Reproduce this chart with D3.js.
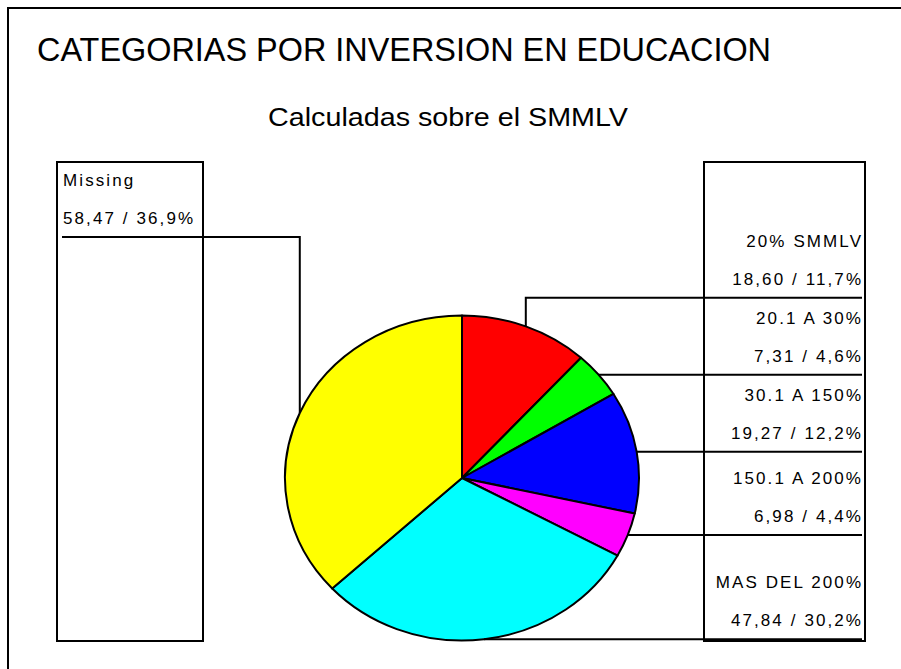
<!DOCTYPE html>
<html><head><meta charset="utf-8">
<script src="https://cdn.jsdelivr.net/npm/d3@7"></script>
<style>body{margin:0;background:#fff} svg{display:block}</style>
</head><body>
<svg id="chart" width="901" height="669"></svg>
<script>
// ---- data ----
const categories = ["20% SMMLV", "20.1 A 30%", "30.1 A 150%", "150.1 A 200%", "MAS DEL 200%", "Missing"];
const values = [18.60, 7.31, 19.27, 6.98, 47.84, 58.47];
const colors = ["#FF0000", "#00FF00", "#0000FF", "#FF00FF", "#00FFFF", "#FFFF00"];
const titleText = "CATEGORIAS POR INVERSION EN EDUCACION";
const subtitleText = "Calculadas sobre el SMMLV";
const leftSide = ["Missing"];

// ---- layout ----
const W = 901, H = 669;
const cx = 462, cy = 478, rx = 177, ry = 162.5;
const boxTop = 162, boxBottom = 641;
const leftBox = {x0: 57, x1: 203};
const rightBox = {x0: 704, x1: 865};
const labelFont = "'Liberation Sans', Arial, sans-serif";
const ls = 2.1;

const svg = d3.select("#chart");
const total = d3.sum(values);
const fmtVal = v => d3.format(".2f")(v).replace(".", ",");
const fmtPct = v => d3.format(".1f")(v * 100).replace(".", ",") + "%";

// outer frame (only top and left visible)
svg.append("rect").attr("x", 8).attr("y", 8).attr("width", 1200).attr("height", 1200)
  .attr("fill", "none").attr("stroke", "#000").attr("stroke-width", 2);

// titles
svg.append("text").attr("x", 37).attr("y", 61)
  .attr("font-family", labelFont).attr("font-size", 34)
  .attr("textLength", 734).attr("lengthAdjust", "spacingAndGlyphs")
  .text(titleText);
svg.append("text").attr("x", 268).attr("y", 126)
  .attr("font-family", labelFont).attr("font-size", 26)
  .attr("textLength", 360).attr("lengthAdjust", "spacingAndGlyphs")
  .text(subtitleText);

// label boxes
[leftBox, rightBox].forEach(b => {
  svg.append("rect").attr("x", b.x0).attr("y", boxTop)
    .attr("width", b.x1 - b.x0).attr("height", boxBottom - boxTop)
    .attr("fill", "none").attr("stroke", "#000").attr("stroke-width", 2);
});

// scales for the elliptical pie
const sx = d3.scaleLinear().domain([-1, 1]).range([cx - rx, cx + rx]);
const sy = d3.scaleLinear().domain([-1, 1]).range([cy - ry, cy + ry]);

const pie = d3.pie().sort(null).value(d => d)(values);
const R = 100;
const arc = d3.arc().innerRadius(0).outerRadius(R);

const g = svg.append("g")
  .attr("transform", `translate(${cx},${cy}) scale(${rx / R},${ry / R})`);
g.selectAll("path").data(pie).join("path")
  .attr("d", arc)
  .attr("fill", (d, i) => colors[i])
  .attr("stroke", "#000").attr("stroke-width", 2)
  .attr("stroke-linejoin", "round")
  .attr("vector-effect", "non-scaling-stroke");

// anchor points on the rim
const pts = pie.map((d, i) => {
  const a = (d.startAngle + d.endAngle) / 2;
  const p = d3.pointRadial(a, 1);
  return {i, x: sx(p[0]), y: sy(p[1]), left: leftSide.includes(categories[i])};
});

// right-side slot layout (push upward to avoid overlap)
const right = pts.filter(p => !p.left).sort((a, b) => a.y - b.y);
const minGap = 77;
right.forEach(p => p.slot = Math.min(p.y, boxBottom - 1));
for (let k = right.length - 2; k >= 0; k--) {
  right[k].slot = Math.min(right[k].slot, right[k + 1].slot - minGap);
}
const left = pts.filter(p => p.left);
left.forEach((p, k) => p.slot = boxTop + 75 + k * minGap);

const lead = svg.append("g").attr("fill", "none").attr("stroke", "#000").attr("stroke-width", 2);
right.forEach(p => {
  lead.append("path").attr("d", `M${p.x},${p.y}V${p.slot}H${rightBox.x1 - 3}`);
});
left.forEach(p => {
  lead.append("path").attr("d", `M${p.x},${p.y}V${p.slot}H${leftBox.x0 + 5}`);
});

function addLabel(p, xAnchor, anchor) {
  const i = p.i;
  const lines = [categories[i], fmtVal(values[i]) + " / " + fmtPct(values[i] / total)];
  lines.forEach((t, k) => {
    svg.append("text")
      .attr("x", anchor === "end" ? xAnchor + ls : xAnchor)
      .attr("y", p.slot - 51 + k * 38)
      .attr("text-anchor", anchor)
      .attr("font-family", labelFont).attr("font-size", 17)
      .attr("letter-spacing", ls)
      .attr("fill", "#000")
      .text(t);
  });
}
right.forEach(p => addLabel(p, rightBox.x1 - 4, "end"));
left.forEach(p => addLabel(p, leftBox.x0 + 6, "start"));
</script>
</body></html>
